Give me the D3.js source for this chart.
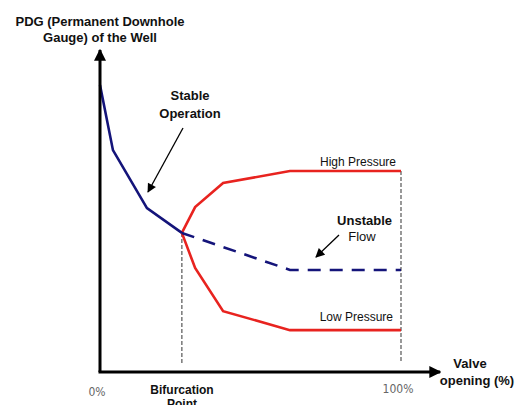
<!DOCTYPE html>
<html lang="en">
<head>
    <meta charset="UTF-8">
    <title>Bifurcation diagram</title>
    <script src="https://d3js.org/d3.v7.min.js"></script>
    <style>
        body { margin: 0; background: white; font-family: "Liberation Sans", Arial, sans-serif; }
        .bold { font-weight: bold; fill: #111; }
        .small { fill: #111; }
        .tick-label { font-family: "Liberation Sans Narrow", "DejaVu Sans Condensed", sans-serif; font-size: 12px; fill: #666; }
    </style>
</head>
<body>
<div id="chart"></div>
<script>
    // valve opening (%) and downhole pressure (arbitrary units 0-100)
    const stableX = [0, 4.3, 15.6, 27.2];
    const stableY = [89.1, 68.9, 50.9, 43.2];
    const unstableX = [27.2, 63.1, 100];
    const unstableY = [43.2, 31.7, 31.7];
    const highX = [27.2, 31.6, 40.9, 63.1, 100];
    const highY = [43.2, 51.2, 58.7, 62.4, 62.4];
    const lowX = [27.2, 31.6, 40.9, 63.1, 100];
    const lowY = [43.2, 32.3, 18.9, 13.0, 13.0];
    const bifurcation = 27.2;
    const tickValues = [0, 100];
    const tickLabels = ["0%", "100%"];

    const width = 516, height = 405;
    const svg = d3.select("#chart").append("svg")
        .attr("width", width).attr("height", height);

    const x = d3.scaleLinear().domain([0, 100]).range([100, 401]);
    const y = d3.scaleLinear().domain([0, 100]).range([372, 50]);

    const zip = (xs, ys) => xs.map((v, i) => [v, ys[i]]);
    const line = d3.line().x(d => x(d[0])).y(d => y(d[1]));

    // arrow markers
    const defs = svg.append("defs");
    defs.append("marker").attr("id", "bigArrow")
        .attr("viewBox", "0 0 10 10").attr("refX", 9).attr("refY", 5)
        .attr("markerWidth", 4).attr("markerHeight", 4).attr("orient", "auto")
        .attr("markerUnits", "strokeWidth")
        .append("path").attr("d", "M0,0 L10,5 L0,10 z").attr("fill", "#000");
    defs.append("marker").attr("id", "smallArrow")
        .attr("viewBox", "0 0 10 10").attr("refX", 9).attr("refY", 5)
        .attr("markerWidth", 8).attr("markerHeight", 7).attr("orient", "auto")
        .attr("markerUnits", "strokeWidth")
        .append("path").attr("d", "M0,0 L10,5 L0,10 z").attr("fill", "#000");

    // vertical grey dashed guides
    svg.append("line")
        .attr("x1", x(bifurcation)).attr("x2", x(bifurcation))
        .attr("y1", y(43.2)).attr("y2", y(2.8))
        .attr("stroke", "#555").attr("stroke-width", 1.2).attr("stroke-dasharray", "4,2");
    svg.append("line")
        .attr("x1", x(100)).attr("x2", x(100))
        .attr("y1", y(62.4)).attr("y2", y(2.8))
        .attr("stroke", "#555").attr("stroke-width", 1.2).attr("stroke-dasharray", "4,2");

    // curves
    svg.append("path").attr("d", line(zip(highX, highY)))
        .attr("fill", "none").attr("stroke", "#e8231f").attr("stroke-width", 2.6);
    svg.append("path").attr("d", line(zip(lowX, lowY)))
        .attr("fill", "none").attr("stroke", "#e8231f").attr("stroke-width", 2.6);
    svg.append("path").attr("d", line(zip(unstableX, unstableY)))
        .attr("fill", "none").attr("stroke", "#14147a").attr("stroke-width", 2.6)
        .attr("stroke-dasharray", "13,9");
    svg.append("path").attr("d", line(zip(stableX, stableY)))
        .attr("fill", "none").attr("stroke", "#14147a").attr("stroke-width", 2.6);

    // axes with arrow heads
    svg.append("line")
        .attr("x1", x(0)).attr("y1", y(0)).attr("x2", x(0)).attr("y2", y(100))
        .attr("stroke", "#000").attr("stroke-width", 3).attr("marker-end", "url(#bigArrow)");
    svg.append("line")
        .attr("x1", x(0) - 1.5).attr("y1", y(0)).attr("x2", x(113)).attr("y2", y(0))
        .attr("stroke", "#000").attr("stroke-width", 3).attr("marker-end", "url(#bigArrow)");

    // tick labels
    svg.selectAll(".tick-label").data(tickValues).enter().append("text")
        .attr("class", "tick-label")
        .attr("x", d => x(d) - 3).attr("y", d => d === 0 ? 396 : 393)
        .attr("text-anchor", "middle")
        .text((d, i) => tickLabels[i]);

    // annotation arrows
    svg.append("line").attr("x1", 183).attr("y1", 128).attr("x2", 148).attr("y2", 192)
        .attr("stroke", "#000").attr("stroke-width", 1.3).attr("marker-end", "url(#smallArrow)");
    svg.append("line").attr("x1", 339).attr("y1", 235).attr("x2", 316).attr("y2", 257)
        .attr("stroke", "#000").attr("stroke-width", 1.3).attr("marker-end", "url(#smallArrow)");

    // text
    function label(txt, px, py, cls, size, anchor) {
        svg.append("text").attr("class", cls).attr("x", px).attr("y", py)
            .attr("text-anchor", anchor || "middle")
            .style("font-size", size + "px").text(txt);
    }
    label("PDG (Permanent Downhole", 100, 26, "bold", 13);
    label("Gauge) of the Well", 100, 42, "bold", 13);
    label("Stable", 190, 100, "bold", 13);
    label("Operation", 190, 118, "bold", 13);
    label("High Pressure", 396, 166, "small", 12, "end");
    label("Unstable", 392, 225, "bold", 13, "end");
    label("Flow", 362, 241, "small", 13);
    label("Low Pressure", 393, 321, "small", 12, "end");
    label("Bifurcation", 182, 394, "bold", 12);
    label("Point", 182, 408, "bold", 12);
    label("Valve", 470, 368, "bold", 13);
    label("opening (%)", 477, 385, "bold", 13);
</script>
</body>
</html>
